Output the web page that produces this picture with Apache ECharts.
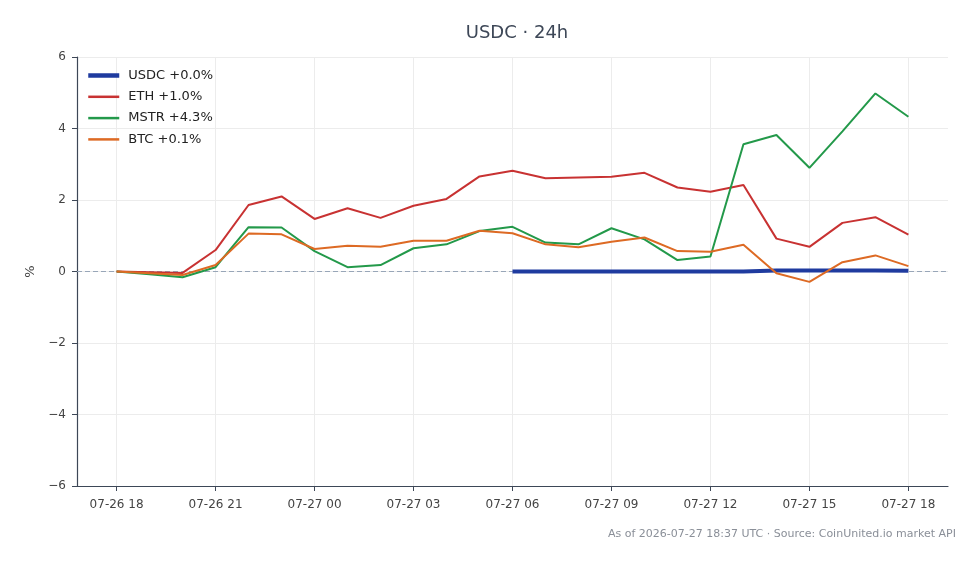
<!DOCTYPE html>
<html>
<head>
<meta charset="utf-8">
<script src="https://cdn.jsdelivr.net/npm/echarts@6/dist/echarts.min.js"></script>
<style>
  html, body { margin: 0; padding: 0; background: #fff; }
  #chart { width: 980px; height: 564px; }
</style>
</head>
<body>
<div id="chart"></div>
<script>
// hourly points, 07-26 18:00 -> 07-27 18:00 (index = hours since start)
var tickHours = [0, 3, 6, 9, 12, 15, 18, 21, 24]
var tickLabels = ['07-26 18', '07-26 21', '07-27 00', '07-27 03', '07-27 06', '07-27 09', '07-27 12', '07-27 15', '07-27 18']

var usdc = [null, null, null, null, null, null, null, null, null, null, null, null,
  0.0, 0.0, 0.0, 0.0, 0.0, 0.0, 0.0, 0.0, 0.03, 0.03, 0.03, 0.03, 0.02]
var eth = [0.0, -0.02, -0.04, 0.6, 1.86, 2.1, 1.47, 1.77, 1.5, 1.84, 2.03, 2.66,
  2.82, 2.61, 2.63, 2.65, 2.76, 2.35, 2.23, 2.42, 0.92, 0.69, 1.36, 1.52, 1.03]
var mstr = [0.0, -0.08, -0.16, 0.12, 1.24, 1.23, 0.57, 0.12, 0.18, 0.65, 0.76, 1.13,
  1.25, 0.81, 0.76, 1.21, 0.9, 0.32, 0.42, 3.56, 3.82, 2.9, 3.92, 4.98, 4.33]
var btc = [0.0, -0.05, -0.1, 0.18, 1.06, 1.04, 0.63, 0.72, 0.69, 0.86, 0.86, 1.14,
  1.07, 0.76, 0.68, 0.83, 0.95, 0.57, 0.55, 0.75, -0.05, -0.29, 0.26, 0.45, 0.15]

function pts(arr) {
  return arr.map(function (v, i) { return [i, v] })
}

var myChart = echarts.init(document.getElementById('chart'))

var option = {
  backgroundColor: '#fff',
  animation: false,
  textStyle: { fontFamily: 'DejaVu Sans' },
  title: [{
    text: 'USDC · 24h',
    left: 512, top: 19, textAlign: 'center',
    textStyle: { fontSize: 18, fontWeight: 'normal', color: '#3d4757' }
  }, {
    text: 'As of 2026-07-27 18:37 UTC · Source: CoinUnited.io market API',
    right: 19, top: 524,
    textStyle: { fontSize: 11, fontWeight: 'normal', color: '#8a8f98' }
  }],
  legend: {
    orient: 'vertical',
    left: 86, top: 69, padding: 0,
    itemWidth: 31, itemHeight: 14, itemGap: 8.3,
    itemStyle: { opacity: 0 },
    lineStyle: { width: 2.5 },
    textStyle: { fontSize: 13, color: '#222', padding: [0, 0, 0, 4] },
    data: [
      { name: 'USDC +0.0%', lineStyle: { width: 4.5 } },
      'ETH +1.0%', 'MSTR +4.3%', 'BTC +0.1%'
    ]
  },
  grid: { left: 77, right: 32, top: 57, bottom: 78 },
  xAxis: {
    type: 'value',
    min: -1.2, max: 25.2,
    axisLine: { onZero: false, lineStyle: { color: '#3d4757', width: 1.2 } },
    axisTick: { customValues: tickHours, length: 5, lineStyle: { color: '#3d4757' } },
    axisLabel: {
      customValues: tickHours,
      margin: 13, fontSize: 12, color: '#444',
      formatter: function (v) { return tickLabels[tickHours.indexOf(v)] }
    },
    splitLine: { show: true, lineStyle: { color: '#ececec' } }
  },
  yAxis: {
    type: 'value',
    min: -6, max: 6, interval: 2,
    name: '%', nameLocation: 'middle', nameRotate: 90, nameGap: 40,
    nameTextStyle: { fontSize: 13, color: '#444' },
    axisLine: { show: true, onZero: false, lineStyle: { color: '#3d4757', width: 1.2 } },
    axisTick: { show: true, length: 5, lineStyle: { color: '#3d4757' } },
    axisLabel: {
      fontSize: 12, color: '#444', margin: 11,
      formatter: function (v) { return String(v).replace('-', '\u2212') }
    },
    splitLine: { lineStyle: { color: '#ececec' } }
  },
  series: [{
    // zero reference line, kept under the data lines
    name: 'zero', type: 'line', data: [], z: 1,
    markLine: {
      z: 1, silent: true, symbol: 'none', label: { show: false },
      lineStyle: { color: '#98a6b8', type: [5, 3], width: 1 },
      data: [{ yAxis: 0 }]
    }
  }, {
    name: 'USDC +0.0%', type: 'line', data: pts(usdc),
    symbol: 'none',
    lineStyle: { color: '#1f3b9f', width: 4 }, itemStyle: { color: '#1f3b9f' },
    z: 2
  }, {
    name: 'ETH +1.0%', type: 'line', data: pts(eth),
    symbol: 'none',
    lineStyle: { color: '#c83232', width: 2 }, itemStyle: { color: '#c83232' },
    z: 3
  }, {
    name: 'MSTR +4.3%', type: 'line', data: pts(mstr),
    symbol: 'none',
    lineStyle: { color: '#23994a', width: 2 }, itemStyle: { color: '#23994a' },
    z: 3
  }, {
    name: 'BTC +0.1%', type: 'line', data: pts(btc),
    symbol: 'none',
    lineStyle: { color: '#dd6a24', width: 2 }, itemStyle: { color: '#dd6a24' },
    z: 3
  }]
}

myChart.setOption(option)
</script>
</body>
</html>
